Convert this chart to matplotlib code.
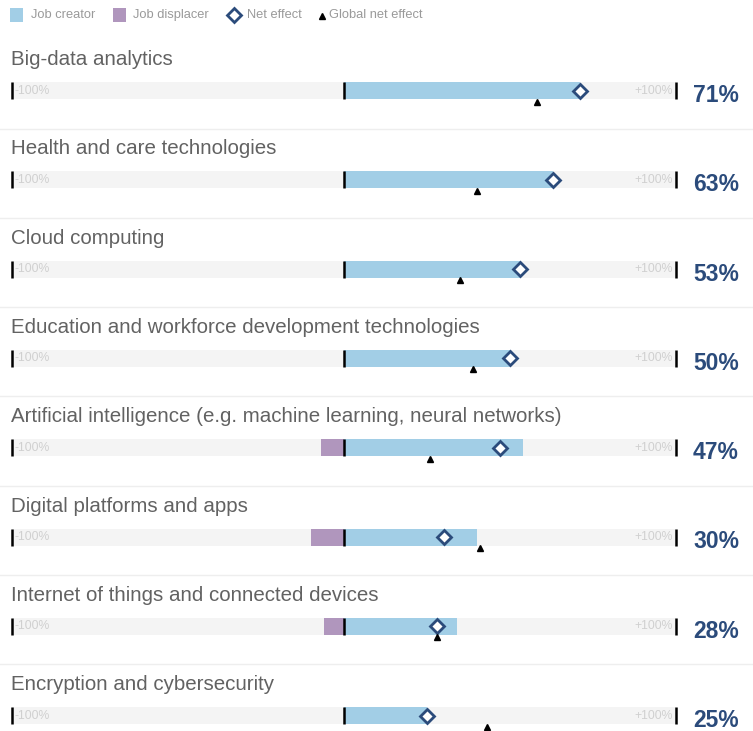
import matplotlib.pyplot as plt
from matplotlib.patches import Rectangle

plt.rcParams['font.family'] = ['Liberation Sans', 'DejaVu Sans']

categories = [
    'Big-data analytics',
    'Health and care technologies',
    'Cloud computing',
    'Education and workforce development technologies',
    'Artificial intelligence (e.g. machine learning, neural networks)',
    'Digital platforms and apps',
    'Internet of things and connected devices',
    'Encryption and cybersecurity',
]
creator = [71, 63, 53, 50, 54, 40, 34, 25]
displacer = [0, 0, 0, 0, -7, -10, -6, 0]
net = [71, 63, 53, 50, 47, 30, 28, 25]
global_net = [58, 40, 35, 39, 26, 41, 28, 43]

c_creator = '#a2cee6'
c_displacer = '#b096bd'
c_net = '#2b4b7b'
c_text = '#626262'

W, H = 753, 731
fig = plt.figure(figsize=(W / 100, H / 100), dpi=100)
ax = fig.add_axes([0, 0, 1, 1])
# pixel-based canvas, y pointing down
ax.set_xlim(0, W)
ax.set_ylim(H, 0)
ax.axis('off')

x0, scale = 344, 3.32  # zero line and pixels per percent


def px(v):
    return x0 + v * scale


# legend
ax.add_patch(Rectangle((10, 8), 13, 14, color=c_creator, lw=0))
ax.text(31, 15, 'Job creator', color='#9a9a9a', fontsize=9.3, va='center')
ax.add_patch(Rectangle((113, 8), 13, 14, color=c_displacer, lw=0))
ax.text(133, 15, 'Job displacer', color='#9a9a9a', fontsize=9.3, va='center')
ax.plot(234, 15, marker='D', ms=7.5, mfc='white', mec=c_net, mew=2)
ax.text(247, 15, 'Net effect', color='#9a9a9a', fontsize=9.3, va='center')
ax.plot(322, 16, marker='^', ms=4, color='black')
ax.text(329, 15, 'Global net effect', color='#9a9a9a', fontsize=9.3, va='center')

pitch = 89.3
bh = 17
for i, name in enumerate(categories):
    yb = 90.5 + i * pitch
    ax.text(11, yb - 31, name, color=c_text, fontsize=14.8,
            va='center', ha='left')
    # track
    ax.add_patch(Rectangle((px(-100), yb - bh / 2), px(100) - px(-100), bh,
                           color='#f4f4f4', lw=0, zorder=1))
    ax.text(px(-100) + 3, yb, '-100%', color='#d0d0d0', fontsize=8.8,
            va='center', ha='left', zorder=2)
    ax.text(px(100) - 3, yb, '+100%', color='#d0d0d0', fontsize=8.8,
            va='center', ha='right', zorder=2)
    # bars
    ax.add_patch(Rectangle((px(0), yb - bh / 2), px(creator[i]) - px(0), bh,
                           color=c_creator, lw=0, zorder=3))
    if displacer[i] < 0:
        ax.add_patch(Rectangle((px(displacer[i]), yb - bh / 2),
                               px(0) - px(displacer[i]), bh,
                               color=c_displacer, lw=0, zorder=3))
    for v in (-100, 0, 100):
        ax.plot([px(v), px(v)], [yb - bh / 2, yb + bh / 2], color='black',
                lw=1.8, zorder=4, solid_capstyle='butt')
    ax.plot(px(net[i]), yb, marker='D', ms=7.5, mfc='white', mec=c_net,
            mew=2, zorder=5)
    ax.plot(px(global_net[i]), yb + 11, marker='^', ms=4, color='black',
            zorder=5)
    ax.text(693, yb + 5, f'{net[i]}%', color=c_net, fontsize=16.5,
            fontweight='bold', va='center', ha='left')
    if i < len(categories) - 1:
        ax.plot([0, W], [yb + 38, yb + 38], color='#eeeeee', lw=1, zorder=0)

plt.savefig('out.png', dpi=100)
